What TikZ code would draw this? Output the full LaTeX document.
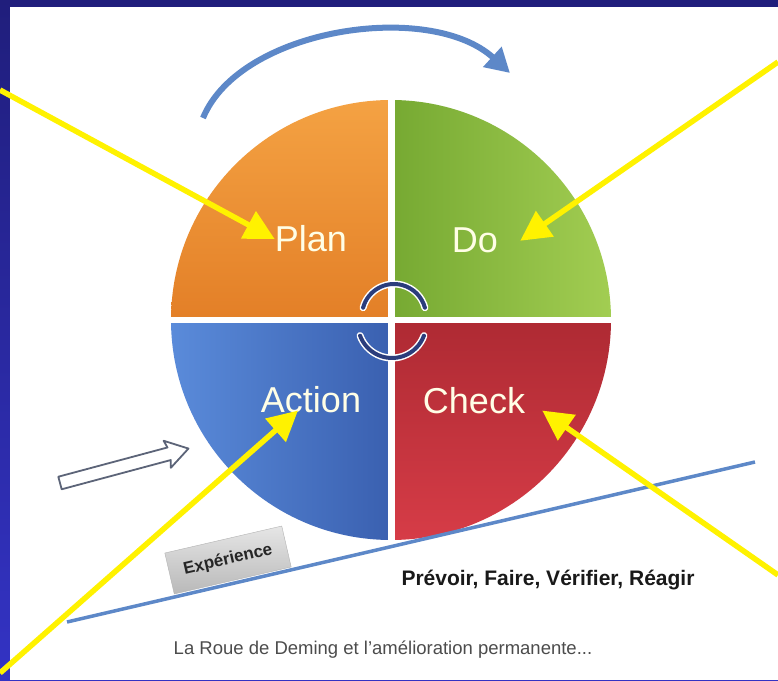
\documentclass[tikz,border=0pt]{standalone}
\usepackage{fontspec}
\setmainfont{Liberation Sans}
\usetikzlibrary{positioning,arrows.meta}
\definecolor{slidetop}{HTML}{201E7C}
\definecolor{slidebot}{HTML}{3333C4}
\definecolor{orangehi}{HTML}{F4A243}
\definecolor{orangelo}{HTML}{E37F27}
\definecolor{greenlo}{HTML}{76A932}
\definecolor{greenhi}{HTML}{A2CD52}
\definecolor{bluehi}{HTML}{5A8BDA}
\definecolor{bluelo}{HTML}{3A60B0}
\definecolor{redhi}{HTML}{D63C47}
\definecolor{redlo}{HTML}{AE2A33}
\definecolor{sweepblue}{HTML}{5D88C8}
\definecolor{navy}{HTML}{2B3D7C}
\definecolor{hollowgray}{HTML}{5C6478}

\begin{document}
\begin{tikzpicture}[x=1pt,y=1pt,
				word/.style={text=white!90!yellow, font=\fontsize{36}{36}\selectfont, inner sep=0pt, anchor=base},
				pointer/.style={line width=5.5pt, yellow, -{Triangle[length=30pt,width=30pt]}},
				turn/.style={white, line width=1.5pt, double=navy, double distance=4pt, line cap=round},
				sweep/.style={sweepblue, line width=6pt, -{Triangle[length=24pt,width=26pt]}},
				ground/.style={sweepblue, line width=3.5pt},
				hollow/.style={draw=hollowgray, line width=1.8pt, fill=white, line join=round},
				expbox/.style={rectangle, draw=gray!60, top color=gray!20, bottom color=gray!55, minimum width=120pt, minimum height=42pt, font=\bfseries\fontsize{17}{17}\selectfont, text=black!85},
				motto/.style={font=\bfseries\fontsize{21}{21}\selectfont, text=black!90},
				caption/.style={font=\fontsize{18.5}{18.5}\selectfont, text=black!70}
			]
			\useasboundingbox (0,0) rectangle (778,680);
			\shade[top color=slidetop, bottom color=slidebot] (0,0) rectangle (778,680);
			\fill[white] (10,0) rectangle (778,673);
			\coordinate (hub) at (391,360);
			\shade[top color=orangehi, bottom color=orangelo] (hub) -- ++(180:220) arc (180:90:220) -- cycle;
			\shade[left color=greenlo, right color=greenhi] (hub) -- ++(90:220) arc (90:0:220) -- cycle;
			\shade[left color=bluehi, right color=bluelo] (hub) -- ++(270:220) arc (270:180:220) -- cycle;
			\shade[top color=redlo, bottom color=redhi] (hub) -- ++(0:220) arc (0:-90:220) -- cycle;
			\draw[white, line width=7pt] ([yshift=222pt]hub) -- ([yshift=-222pt]hub);
			\draw[white, line width=6pt] ([xshift=-222pt]hub) -- ([xshift=222pt]hub);
			\draw[turn] (hub) ++(3,4) ++(165:32) arc (165:15:32);
			\draw[turn] (hub) ++(1,-4) ++(200:34) arc (200:340:34);
			\draw[sweep] (203,562) .. controls (240,652) and (430,680) .. (510,607);
			\draw[ground] (67,58) -- (755,218);
			\node[expbox, rotate=13] (exp) at (228,120) {Expérience};
			\begin{scope}[shift={(60,197)}, rotate=15]
			\draw[hollow] (0,-6.5) -- (113,-6.5) -- (111,-14) -- (133,0) -- (111,14) -- (113,6.5) -- (0,6.5) -- cycle;
			\end{scope}
			\node[motto] (pfvr) at (548,100) {Prévoir, Faire, Vérifier, Réagir};
			\node[caption] (roue) at (383,30) {La Roue de Deming et l’amélioration permanente...};
			\node[word] (plan) at (311,428) {Plan};
			\node[word] (do) at (475,427) {Do};
			\node[word] (action) at (311,267) {Action};
			\node[word] (check) at (474,266) {Check};
			\coordinate (tl) at (0,590);
			\coordinate (tr) at (778,618);
			\coordinate (bl) at (0,7);
			\coordinate (br) at (778,105);
			\draw[pointer] (tl) -- (plan.west);
			\draw[pointer] (tr) -- ([xshift=22pt]do.east);
			\draw[pointer] (bl) -- ([xshift=-13pt,yshift=3pt]action.south);
			\draw[pointer] (br) -- ([xshift=17pt,yshift=4pt]check.south east);
			\end{tikzpicture}
\end{document}
